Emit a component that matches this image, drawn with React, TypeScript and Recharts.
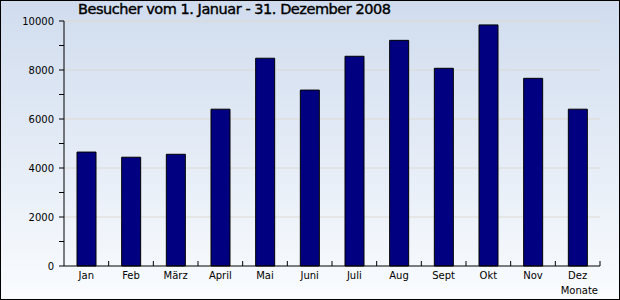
import { BarChart, Bar, XAxis, YAxis, CartesianGrid } from "recharts";

const months = ["Jan", "Feb", "März", "April", "Mai", "Juni", "Juli", "Aug", "Sept", "Okt", "Nov", "Dez"];
const visitors = [4650, 4440, 4560, 6400, 8480, 7180, 8560, 9210, 8070, 9840, 7660, 6400];
const yTicks = [0, 1000, 2000, 3000, 4000, 5000, 6000, 7000, 8000, 9000, 10000];
const gridValues = [2000, 4000, 6000, 8000, 10000];
const title = "Besucher vom 1. Januar - 31. Dezember 2008";
const xAxisTitle = "Monate";

const data = months.map((m, i) => ({ month: m, value: visitors[i] }));

const W = 620;
const H = 300;
const LEFT = 64;
const RIGHT = 20;
const TOP = 21;
const X_AXIS_H = 34;
const BAND = (W - LEFT - RIGHT) / months.length;
const FONT = "'DejaVu Sans', Verdana, sans-serif";

const XTick = ({ x, y, payload }: any) => (
  <g>
    <line x1={x + BAND / 2} x2={x + BAND / 2} y1={y} y2={y - 5} stroke="#000" />
    <text x={x} y={y + 13} textAnchor="middle" fontSize={10} fontFamily={FONT} fill="#000">
      {payload.value}
    </text>
  </g>
);

const YTick = ({ x, y, payload }: any) =>
  payload.value % 2000 === 0 ? (
    <text x={x} y={y} dy="0.35em" textAnchor="end" fontSize={10} fontFamily={FONT} fill="#000">
      {payload.value}
    </text>
  ) : null;

export default function App() {
  return (
    <div
      style={{
        position: "absolute",
        left: 0,
        top: 0,
        width: W,
        height: H,
        background: "linear-gradient(to bottom, #d0dcee 0%, #e6edf7 55%, #fafcfe 100%)",
      }}
    >
      <BarChart
        width={W}
        height={H}
        data={data}
        margin={{ top: TOP, right: RIGHT, bottom: 0, left: 0 }}
        barSize={19}
      >
        <CartesianGrid
          vertical={false}
          horizontalValues={gridValues}
          stroke="#dddad0"
          strokeWidth={1}
        />
        <XAxis
          dataKey="month"
          height={X_AXIS_H}
          tickLine={false}
          tickSize={0}
          tickMargin={0}
          axisLine={{ stroke: "#000" }}
          tick={<XTick />}
          interval={0}
        />
        <YAxis
          width={LEFT}
          domain={[0, 10000]}
          ticks={yTicks}
          interval={0}
          tickSize={5}
          tickMargin={5}
          tickLine={{ stroke: "#000" }}
          axisLine={{ stroke: "#000" }}
          tick={<YTick />}
        />
        <Bar dataKey="value" fill="#000080" stroke="#000" strokeWidth={1} isAnimationActive={false} />
      </BarChart>
      <svg
        width={W}
        height={H}
        style={{ position: "absolute", left: 0, top: 0, pointerEvents: "none" }}
      >
        {/* title font in the original is a heavy pixel font, thicken a bit */}
        <text
          x={78}
          y={14}
          fontSize={14.5}
          fontFamily={FONT}
          fill="#000"
          stroke="#000"
          strokeWidth={0.4}
          textLength={313}
          lengthAdjust="spacing"
        >
          {title}
        </text>
        <text x={598} y={294} textAnchor="end" fontSize={10} fontFamily={FONT} fill="#000">
          {xAxisTitle}
        </text>
        <rect x={0.5} y={0.5} width={W - 1} height={H - 1} fill="none" stroke="#000" />
      </svg>
    </div>
  );
}
